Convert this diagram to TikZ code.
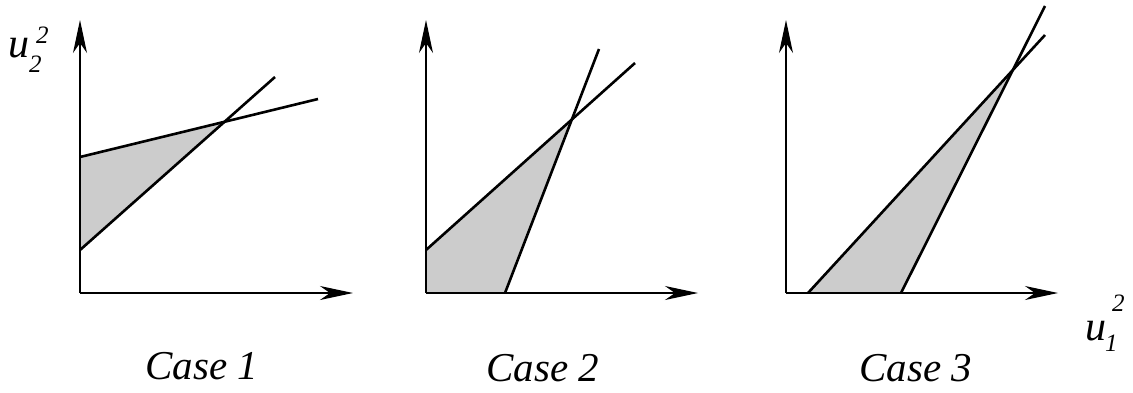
\documentclass[tikz,border=0pt]{standalone}
\usepackage{fontspec}
\setmainfont{Liberation Serif}
\usepackage{xcolor}
\definecolor{regiongray}{RGB}{204,204,204}
\usetikzlibrary{arrows.meta, calc}

\tikzset{
  axis/.style={line width=1.2pt, -{Stealth[length=33pt, width=14pt, inset=10pt]}},
  bound/.style={line width=2.6pt},
  region/.style={fill=regiongray, draw=none},
  caselabel/.style={font=\fontsize{41}{48}\selectfont\itshape, anchor=base, inner sep=0pt},
  varlabel/.style={font=\fontsize{42}{48}\selectfont\itshape, anchor=base west, inner sep=0pt},
  idxlabel/.style={font=\fontsize{25}{30}\selectfont\itshape, anchor=base west, inner sep=0pt},
}

\begin{document}
\begin{tikzpicture}[x=1pt, y=-1pt]
  \useasboundingbox (0,0) rectangle (1133,392);

  % --- Case 1 ---
  \coordinate (o1) at (80,293);
  \coordinate (a1s) at (80,250);  \coordinate (a1e) at (275,77);
  \coordinate (b1s) at (80,157);  \coordinate (b1e) at (318,99);
  \coordinate (x1) at (intersection of a1s--a1e and b1s--b1e);
  \fill[region] (b1s) -- (x1) -- (a1s) -- cycle;
  \draw[axis] (o1) -- (80,20);
  \draw[axis] (o1) -- (353,293);
  \draw[bound] (a1s) -- (a1e);
  \draw[bound] (b1s) -- (b1e);
  \node[caselabel] (case1) at (202,379) {Case 1};

  % --- Case 2 ---
  \coordinate (o2) at (426,293);
  \coordinate (a2s) at (426,250); \coordinate (a2e) at (635,63);
  \coordinate (b2s) at (505,293); \coordinate (b2e) at (599,49);
  \coordinate (x2) at (intersection of a2s--a2e and b2s--b2e);
  \fill[region] (o2) -- (a2s) -- (x2) -- (b2s) -- cycle;
  \draw[axis] (o2) -- (426,20);
  \draw[axis] (o2) -- (698,293);
  \draw[bound] (a2s) -- (a2e);
  \draw[bound] (b2s) -- (b2e);
  \node[caselabel] (case2) at (543,381) {Case 2};

  % --- Case 3 ---
  \coordinate (o3) at (786,293);
  \coordinate (a3s) at (808,293); \coordinate (a3e) at (1045,35);
  \coordinate (b3s) at (901,293); \coordinate (b3e) at (1045,6);
  \coordinate (x3) at (intersection of a3s--a3e and b3s--b3e);
  \fill[region] (a3s) -- (x3) -- (b3s) -- cycle;
  \draw[axis] (o3) -- (786,20);
  \draw[axis] (o3) -- (1058,293);
  \draw[bound] (a3s) -- (a3e);
  \draw[bound] (b3s) -- (b3e);
  \node[caselabel] (case3) at (916,381) {Case 3};

  % axis names
  \node[varlabel] (u2) at (8,57) {u};
  \node[idxlabel] (u2sub) at (29,72) {2};
  \node[idxlabel] (u2sup) at (36,43) {2};
  \node[varlabel] (u1) at (1085,340) {u};
  \node[idxlabel] (u1sub) at (1105,351) {1};
  \node[idxlabel] (u1sup) at (1112,311) {2};
\end{tikzpicture}
\end{document}
